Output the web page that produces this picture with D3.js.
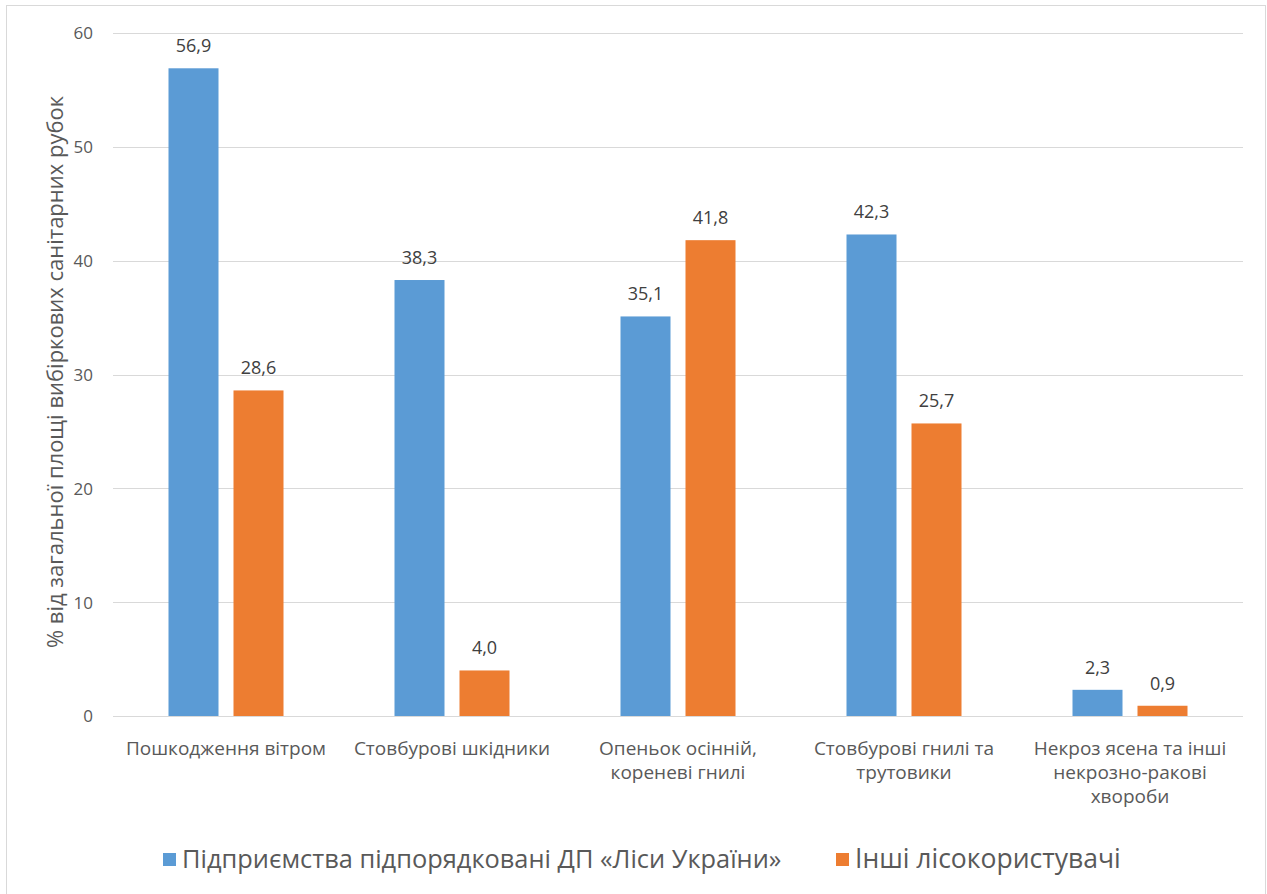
<!DOCTYPE html>
<html><head><meta charset="utf-8">
<script src="https://cdn.jsdelivr.net/npm/d3@7"></script>
<style>
body{margin:0;background:#fff;}
svg{font-family:"Liberation Sans Narrow","Open Sans",sans-serif;}
</style></head>
<body>
<svg id="c" width="1267" height="894"></svg>
<script>
const categories = [
  ["Пошкодження вітром"],
  ["Стовбурові шкідники"],
  ["Опеньок осінній,", "кореневі гнилі"],
  ["Стовбурові гнилі та", "трутовики"],
  ["Некроз ясена та інші", "некрозно-ракові", "хвороби"]
];
const seriesNames = ["Підприємства підпорядковані ДП «Ліси України»", "Інші лісокористувачі"];
const seriesA = [56.9, 38.3, 35.1, 42.3, 2.3];
const seriesB = [28.6, 4.0, 41.8, 25.7, 0.9];
const yTicks = [0, 10, 20, 30, 40, 50, 60];
const yTitle = "% від загальної площі вибіркових санітарних рубок";
const colors = ["#5B9BD5", "#ED7D31"];

const svg = d3.select("#c");
svg.append("rect").attr("x",6.5).attr("y",5.5).attr("width",1259).attr("height",900)
  .attr("fill","#fff").attr("stroke","#D9D9D9").attr("stroke-width",1);

const m = {left:113, right:1243, top:33, bottom:716};
const x0 = d3.scaleBand().domain(d3.range(categories.length)).range([m.left, m.right]);
const y = d3.scaleLinear().domain([0,60]).range([m.bottom, m.top]);
const barW = 50, gap = 15;
const x1 = d3.scaleOrdinal().domain([0,1]).range([-(barW+gap/2), gap/2]);

// gridlines
svg.append("g").selectAll("line").data(yTicks).join("line")
  .attr("x1", m.left).attr("x2", m.right)
  .attr("y1", d=>Math.round(y(d))+0.5).attr("y2", d=>Math.round(y(d))+0.5)
  .attr("stroke","#D9D9D9").attr("stroke-width",1);

// y axis labels
const yAxis = d3.axisLeft(y).tickValues(yTicks).tickSize(0).tickPadding(0).tickFormat(d3.format("d"));
const ya = svg.append("g").attr("transform",`translate(${m.left-20},0)`).call(yAxis);
ya.select(".domain").remove();
ya.selectAll("text").attr("fill","#595959").style("font-size","17px").style("font-family","'Open Sans',sans-serif").attr("dy","0.35em");

// y title
svg.append("text").attr("transform",`translate(63,372) rotate(-90)`)
  .attr("text-anchor","middle").attr("fill","#595959").style("font-size","22px")
  .style("font-family","'Open Sans',sans-serif").text(yTitle);

const series = [seriesA, seriesB];
series.forEach((s, si) => {
  const g = svg.append("g");
  g.selectAll("rect").data(s).join("rect")
    .attr("x", (d,i)=>x0(i)+x0.bandwidth()/2 + x1(si))
    .attr("width", barW)
    .attr("y", d=>y(d)).attr("height", d=>y(0)-y(d))
    .attr("fill", colors[si]);
  g.selectAll("text").data(s).join("text")
    .attr("x", (d,i)=>x0(i)+x0.bandwidth()/2 + x1(si) + barW/2)
    .attr("y", d=>y(d)-16)
    .attr("text-anchor","middle").attr("fill","#404040")
    .style("font-size","18px").style("font-family","'Open Sans',sans-serif")
    .text(d=>d.toFixed(1).replace(".", ","));
});

// x labels
const xl = svg.append("g");
categories.forEach((lines,i)=>{
  const t = xl.append("text").attr("x", x0(i)+x0.bandwidth()/2).attr("y", 755)
    .attr("text-anchor","middle").attr("fill","#595959").style("font-size","19px");
  lines.forEach((ln,j)=> t.append("tspan").attr("x", x0(i)+x0.bandwidth()/2).attr("dy", j?24:0).text(ln));
});

// legend
const legX = [163, 836];
const legSize = [25.4, 26.5];
seriesNames.forEach((n,i)=>{
  svg.append("rect").attr("x",legX[i]).attr("y",853).attr("width",13).attr("height",13).attr("fill",colors[i]);
  svg.append("text").attr("x",legX[i]+19).attr("y",868).attr("fill","#595959")
    .style("font-size",legSize[i]+"px").text(n);
});
</script>
</body></html>
